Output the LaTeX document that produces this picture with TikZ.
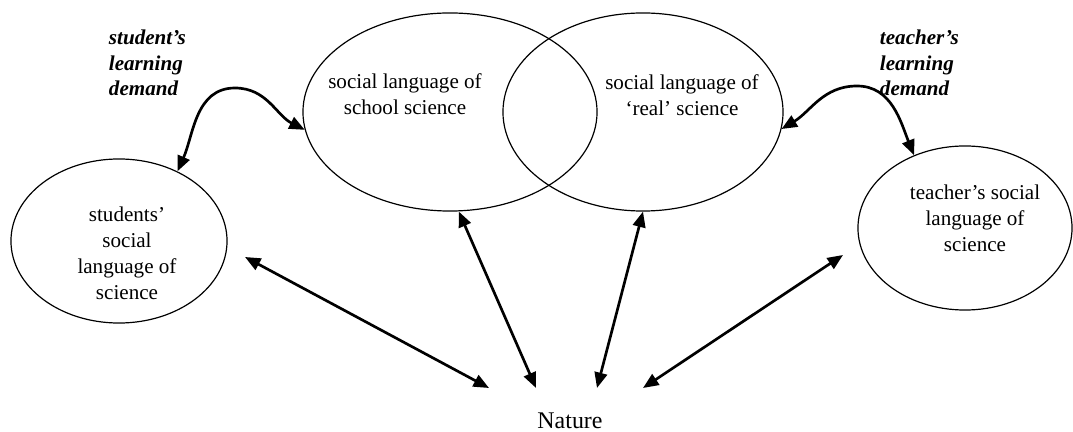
\documentclass[tikz,border=0pt]{standalone}
\usepackage{fontspec}
\setmainfont{Liberation Serif}
\usetikzlibrary{shapes.geometric}
\usetikzlibrary{arrows.meta}

\begin{document}
\begin{tikzpicture}[x=0.025cm, y=-0.025cm,
    lang/.style={ellipse, draw=black, line width=0.85pt, inner sep=0pt},
    txt/.style={align=center, font=\fontsize{15}{18.5}\selectfont},
    demand/.style={align=left, anchor=west, font=\fontsize{15}{18}\selectfont\bfseries\itshape},
    link/.style={{Triangle[length=11pt, width=9pt]}-{Triangle[length=11pt, width=9pt]}, line width=1.9pt}]
    \useasboundingbox (0, 0) rectangle (1073, 432);

    \node[lang, minimum width=5.4cm, minimum height=4.1cm] (student) at (119, 241) {};
    \node[lang, minimum width=7.35cm, minimum height=4.95cm] (school) at (450, 112) {};
    \node[lang, minimum width=7.0cm, minimum height=4.95cm] (real) at (643, 112) {};
    \node[lang, minimum width=5.35cm, minimum height=4.1cm] (teacher) at (965, 228) {};

    \node[txt] (studenttxt) at (127, 253) {students’\\social\\language of\\science};
    \node[txt] (schooltxt) at (405, 94) {social language of\\school science};
    \node[txt] (realtxt) at (682, 95) {social language of\\‘real’ science};
    \node[txt] (teachertxt) at (975, 218) {teacher’s social\\language of\\science};
    \node[txt, font=\fontsize{17}{20}\selectfont] (nature) at (570, 421) {Nature};

    \node[demand] (sdemand) at (104, 63) {student’s\\learning\\demand};
    \node[demand] (tdemand) at (875, 63) {teacher’s\\learning\\demand};

    \coordinate (speak) at (235, 88);
    \coordinate (tpeak) at (857, 86);
    \draw[link] (student.50) to[out=66, in=180] (speak) to[out=0, in=153] (school.187);
    \draw[link] (real.353) to[out=31, in=180] (tpeak) to[out=0, in=112] (teacher.125);

    \coordinate (s1) at (245, 257);
    \coordinate (t1) at (843, 255);
    \coordinate (n1) at (489, 388);
    \coordinate (n2) at (536, 388);
    \coordinate (n3) at (597, 388);
    \coordinate (n4) at (643, 388);
    \draw[link] (s1) -- (n1);
    \draw[link] (school.275) -- (n2);
    \draw[link] (real.270) -- (n3);
    \draw[link] (t1) -- (n4);
\end{tikzpicture}
\end{document}
